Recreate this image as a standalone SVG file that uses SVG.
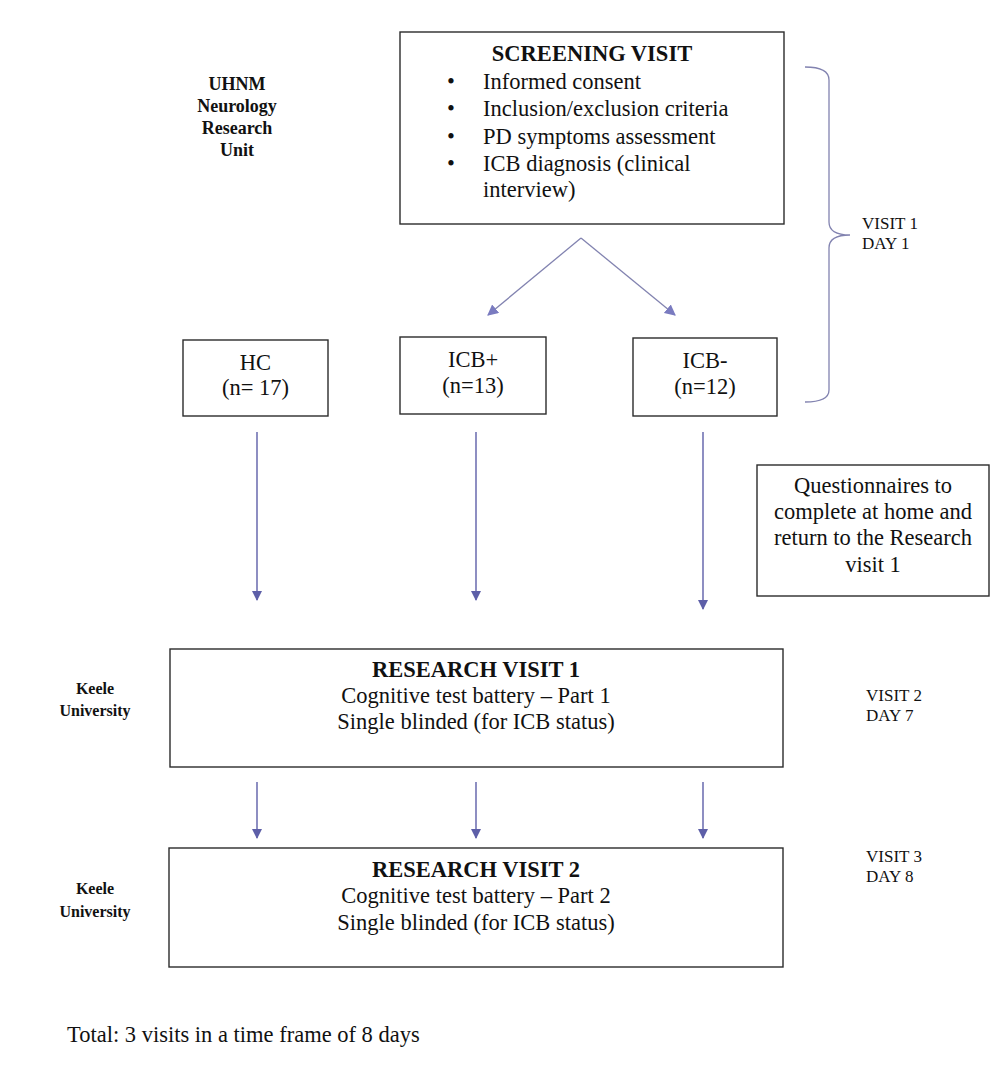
<svg xmlns="http://www.w3.org/2000/svg" width="993" height="1082" viewBox="0 0 993 1082">
<style>
.box{fill:#fff;stroke:#2b2b2b;stroke-width:1.4}
.t{font-family:"Liberation Serif","Times New Roman",serif;font-size:22.5px;fill:#111}
.b{font-weight:bold}
.s{font-family:"Liberation Serif","Times New Roman",serif;font-size:18px;fill:#111}
.k{font-family:"Liberation Serif","Times New Roman",serif;font-size:16px;fill:#111}
.v{font-family:"Liberation Serif","Times New Roman",serif;font-size:17px;fill:#111}
.c{text-anchor:middle}
.ln{stroke:#5d5fa8;stroke-width:1.4;fill:none}
.dg{stroke:#8283b0;stroke-width:1.3;fill:none}
</style>
<defs>
<marker id="ah" viewBox="0 0 10 10" refX="9" refY="5" markerWidth="10" markerHeight="10" markerUnits="userSpaceOnUse" orient="auto">
<path d="M0,0 L10,5 L0,10 z" fill="#5d5fa8"/>
</marker>
<marker id="ah2" viewBox="0 0 10 10" refX="9" refY="5" markerWidth="11" markerHeight="11" markerUnits="userSpaceOnUse" orient="auto">
<path d="M0,0 L10,5 L0,10 z" fill="#7a7bc0"/>
</marker>
</defs>
<rect width="993" height="1082" fill="#fff"/>

<g id="uhnm-label">
<text class="s b c" x="237" y="90">UHNM</text>
<text class="s b c" x="237" y="112">Neurology</text>
<text class="s b c" x="237" y="134">Research</text>
<text class="s b c" x="237" y="156">Unit</text>
</g>

<g id="screening">
<rect class="box" x="400" y="32" width="384" height="192"/>
<text class="t b c" x="592" y="61">SCREENING VISIT</text>
<g class="t">
<text x="447" y="88.5">•</text><text x="483" y="88.5">Informed consent</text>
<text x="447" y="116">•</text><text x="483" y="116">Inclusion/exclusion criteria</text>
<text x="447" y="143.5">•</text><text x="483" y="143.5">PD symptoms assessment</text>
<text x="447" y="171">•</text><text x="483" y="171">ICB diagnosis (clinical</text>
<text x="483" y="197">interview)</text>
</g>
</g>

<g id="visit1-label">
<path class="dg" d="M805,67 Q829,67 829,80 L829,222 Q829,235 850,235 Q829,235 829,248 L829,390 Q829,402 805,402"/>
<text class="v" x="862" y="229">VISIT 1</text>
<text class="v" x="862" y="249">DAY 1</text>
</g>

<g id="hc">
<rect class="box" x="183" y="340" width="145" height="76"/>
<text class="t c" x="255.5" y="370">HC</text>
<text class="t c" x="255.5" y="395">(n= 17)</text>
</g>

<g id="icb-plus">
<rect class="box" x="400" y="337" width="146" height="77"/>
<text class="t c" x="473" y="367">ICB+</text>
<text class="t c" x="473" y="393">(n=13)</text>
</g>

<g id="icb-minus">
<rect class="box" x="633" y="338" width="144" height="78"/>
<text class="t c" x="705" y="368">ICB-</text>
<text class="t c" x="705" y="394">(n=12)</text>
</g>

<g id="questionnaires">
<rect class="box" x="757" y="465" width="232" height="131"/>
<text class="t c" x="873" y="493">Questionnaires to</text>
<text class="t c" x="873" y="519">complete at home and</text>
<text class="t c" x="873" y="545">return to the Research</text>
<text class="t c" x="873" y="572">visit 1</text>
</g>

<g id="keele-1">
<text class="k b c" x="95" y="694">Keele</text>
<text class="k b c" x="95" y="716">University</text>
</g>

<g id="research-visit-1">
<rect class="box" x="170" y="649" width="613" height="118"/>
<text class="t b c" x="476" y="677">RESEARCH VISIT 1</text>
<text class="t c" x="476" y="703">Cognitive test battery – Part 1</text>
<text class="t c" x="476" y="729">Single blinded (for ICB status)</text>
</g>

<g id="visit2-label">
<text class="v" x="866" y="701">VISIT 2</text>
<text class="v" x="866" y="721">DAY 7</text>
</g>

<g id="keele-2">
<text class="k b c" x="95" y="894">Keele</text>
<text class="k b c" x="95" y="917">University</text>
</g>

<g id="research-visit-2">
<rect class="box" x="169" y="848" width="614" height="119"/>
<text class="t b c" x="476" y="877">RESEARCH VISIT 2</text>
<text class="t c" x="476" y="903">Cognitive test battery – Part 2</text>
<text class="t c" x="476" y="930">Single blinded (for ICB status)</text>
</g>

<g id="visit3-label">
<text class="v" x="866" y="862">VISIT 3</text>
<text class="v" x="866" y="882">DAY 8</text>
</g>

<g id="total">
<text class="t" x="67" y="1042">Total: 3 visits in a time frame of 8 days</text>
</g>

<g id="connectors">
<path class="dg" d="M581,238 L488,315" marker-end="url(#ah2)"/>
<path class="dg" d="M581,238 L675,315" marker-end="url(#ah2)"/>
<path class="ln" d="M257,432 L257,600" marker-end="url(#ah)"/>
<path class="ln" d="M476,432 L476,600" marker-end="url(#ah)"/>
<path class="ln" d="M703,432 L703,609" marker-end="url(#ah)"/>
<path class="ln" d="M257,782 L257,838" marker-end="url(#ah)"/>
<path class="ln" d="M476,782 L476,838" marker-end="url(#ah)"/>
<path class="ln" d="M703,782 L703,838" marker-end="url(#ah)"/>
</g>
</svg>
